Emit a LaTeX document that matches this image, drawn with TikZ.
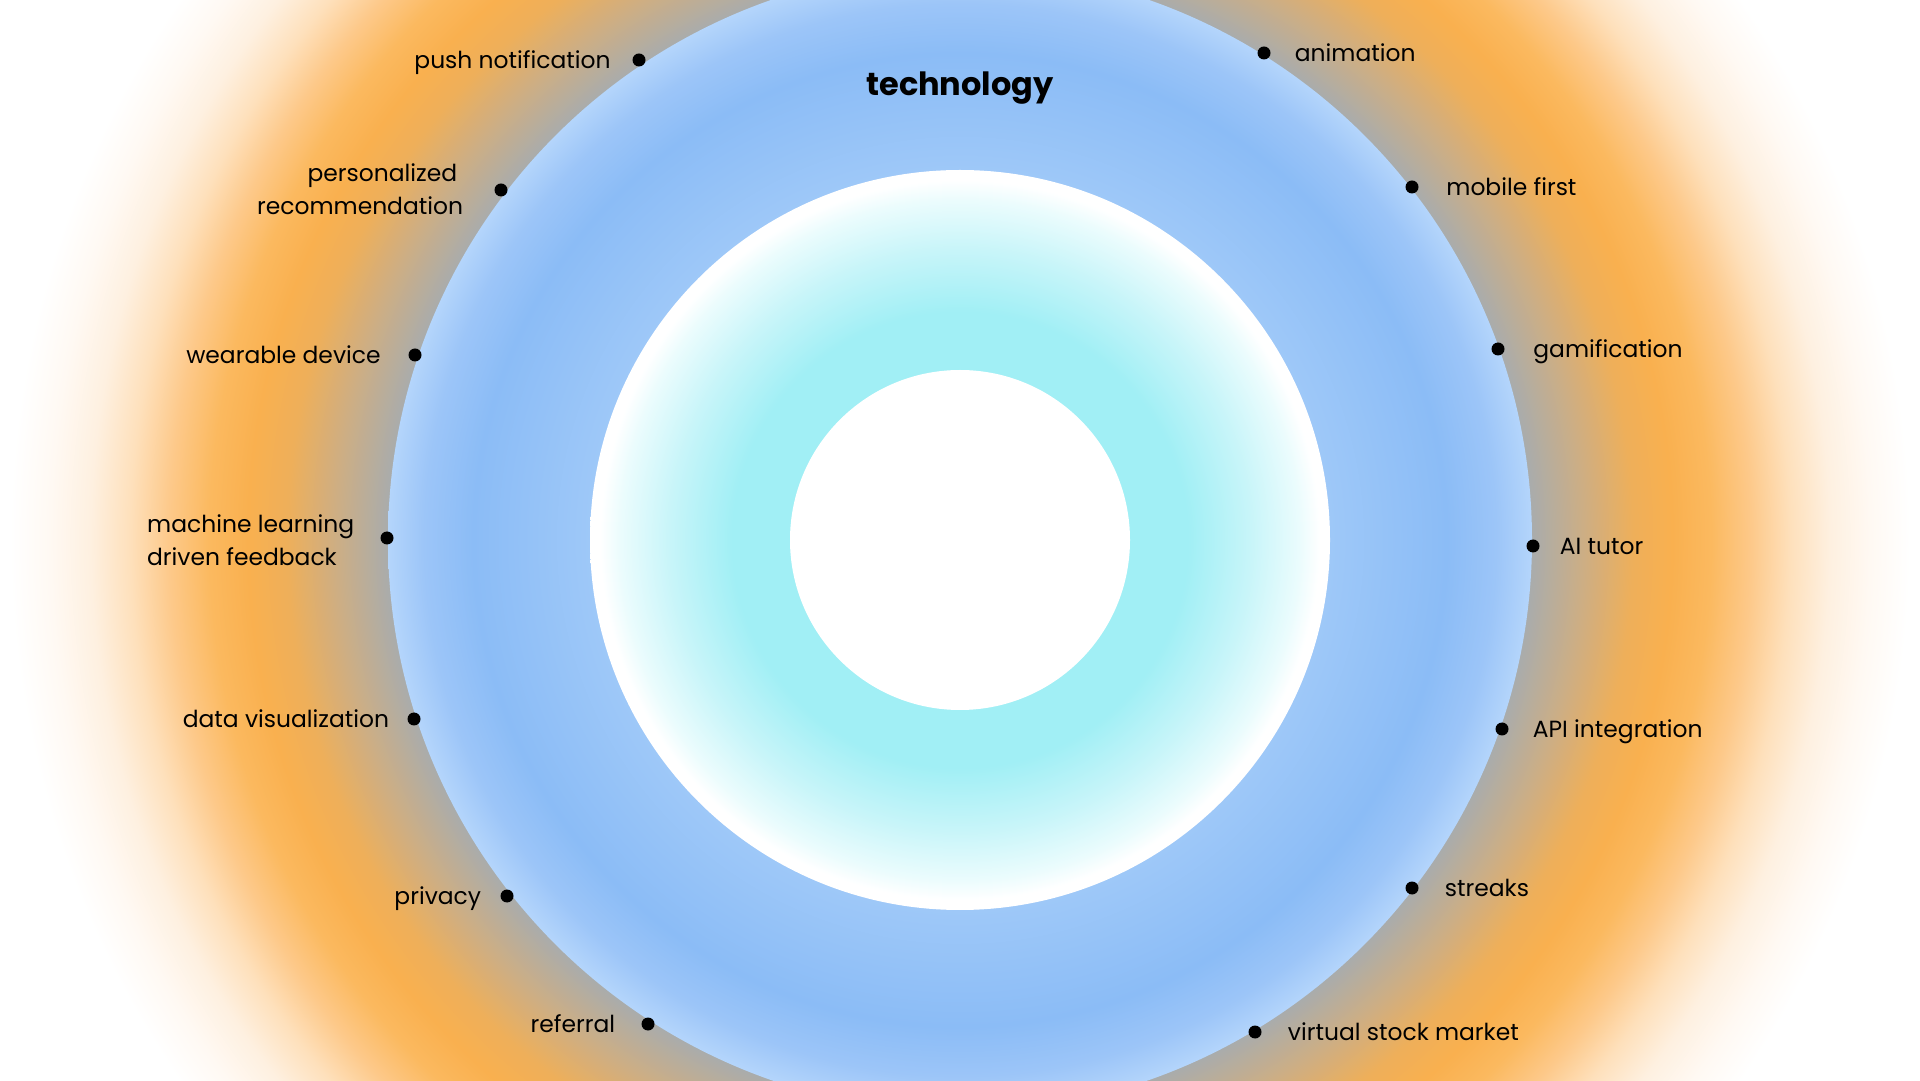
\documentclass[tikz,border=0pt]{standalone}
\usepackage{fontspec}
\setmainfont{Poppins}
\definecolor{cgray}{RGB}{169,172,172}
\definecolor{oA}{RGB}{205,174,132}
\definecolor{oB}{RGB}{238,175,90}
\definecolor{oC}{RGB}{249,176,79}
\definecolor{oD}{RGB}{251,185,95}
\definecolor{oE}{RGB}{253,201,138}
\definecolor{oF}{RGB}{254,224,187}
\definecolor{oG}{RGB}{254,240,224}
\definecolor{oH}{RGB}{255,249,243}
\definecolor{bA}{RGB}{158,200,248}
\definecolor{bB}{RGB}{147,193,247}
\definecolor{bC}{RGB}{139,188,246}
\definecolor{bD}{RGB}{156,197,248}
\definecolor{bE}{RGB}{180,213,251}
\definecolor{cA}{RGB}{161,239,245}
\definecolor{cB}{RGB}{200,245,249}
\definecolor{cC}{RGB}{235,252,253}
% TikZ maps the central 50bp square of a shading onto the path's bounding box
\pgfdeclareradialshading{orangeglow}{\pgfpoint{0bp}{0bp}}{%
  color(0bp)=(cgray); color(12.88bp)=(cgray); color(14.05bp)=(oA);
  color(15.16bp)=(oB); color(16.04bp)=(oC); color(16.91bp)=(oD);
  color(17.82bp)=(oE); color(18.69bp)=(oF); color(19.59bp)=(oG);
  color(20.5bp)=(oH); color(21.4bp)=(white); color(50bp)=(white)}
\pgfdeclareradialshading{bluering}{\pgfpoint{0bp}{0bp}}{%
  color(0bp)=(bA); color(16.17bp)=(bA); color(19.1bp)=(bB); color(21.28bp)=(bC);
  color(23.43bp)=(bD); color(25bp)=(bE); color(50bp)=(bE)}
\pgfdeclareradialshading{cyanring}{\pgfpoint{0bp}{0bp}}{%
  color(0bp)=(cA); color(15.41bp)=(cA); color(19.66bp)=(cB);
  color(22.97bp)=(cC); color(24.32bp)=(white); color(50bp)=(white)}
\tikzset{
  dot/.style={circle, fill=black, inner sep=0pt, minimum size=13pt},
  lbl/.style={font=\fontsize{23.4}{33}\selectfont, inner sep=0pt, text=black},
  titlelbl/.style={font=\fontsize{32}{36}\selectfont\bfseries, inner sep=0pt, text=black}
}
\begin{document}
\begin{tikzpicture}[x=1pt,y=1pt]
\useasboundingbox (0,0) rectangle (1920,1080);
\clip (0,0) rectangle (1920,1080);
\fill[white] (0,0) rectangle (1920,1080);
\coordinate (c) at (960,540);
\shade[shading=orangeglow] (c) circle[radius=1110];
\shade[shading=bluering] (c) circle[radius=572];
\shade[shading=cyanring] (c) circle[radius=370];
\fill[white] (c) circle[radius=170];

\node[titlelbl] (title) at (960,992) {technology};

% left side
\node[dot] (d1) at (639,1020) {};
\node[dot] (d2) at (501,890) {};
\node[dot] (d3) at (415,725) {};
\node[dot] (d4) at (387,542) {};
\node[dot] (d5) at (414,361) {};
\node[dot] (d6) at (507,184) {};
\node[dot] (d7) at (648,56) {};
\node[lbl, anchor=mid east] (t1) at ([xshift=-21.5pt,yshift=-6pt]d1.west) {push notification};
\node[lbl, anchor=east, align=right] (t2) at ([xshift=-31pt,yshift=0.5pt]d2.west) {personalized\hspace*{6pt}\\recommendation};
\node[lbl, anchor=mid east] (t3) at ([xshift=-27.5pt,yshift=-6pt]d3.west) {wearable device};
\node[lbl, anchor=east, align=left] (t4) at ([xshift=-26pt,yshift=-2pt]d4.west) {machine learning\\driven feedback};
\node[lbl, anchor=mid east] (t5) at ([xshift=-18pt,yshift=-6pt]d5.west) {data visualization};
\node[lbl, anchor=mid east] (t6) at ([xshift=-19pt,yshift=-6pt]d6.west) {privacy};
\node[lbl, anchor=mid east] (t7) at ([xshift=-26pt,yshift=-6pt]d7.west) {referral};

% right side
\node[dot] (e1) at (1264,1027) {};
\node[dot] (e2) at (1412,893) {};
\node[dot] (e3) at (1498,731) {};
\node[dot] (e4) at (1533,534) {};
\node[dot] (e5) at (1502,351) {};
\node[dot] (e6) at (1412,192) {};
\node[dot] (e7) at (1255,48) {};
\node[lbl, anchor=mid west] (s1) at ([xshift=24pt,yshift=-6pt]e1.east) {animation};
\node[lbl, anchor=mid west] (s2) at ([xshift=27.5pt,yshift=-6pt]e2.east) {mobile first};
\node[lbl, anchor=mid west] (s3) at ([xshift=28.5pt,yshift=-6pt]e3.east) {gamification};
\node[lbl, anchor=mid west] (s4) at ([xshift=20pt,yshift=-6pt]e4.east) {AI tutor};
\node[lbl, anchor=mid west] (s5) at ([xshift=24pt,yshift=-6pt]e5.east) {API integration};
\node[lbl, anchor=mid west] (s6) at ([xshift=26pt,yshift=-6pt]e6.east) {streaks};
\node[lbl, anchor=mid west] (s7) at ([xshift=26pt,yshift=-6pt]e7.east) {virtual stock market};
\end{tikzpicture}
\end{document}
